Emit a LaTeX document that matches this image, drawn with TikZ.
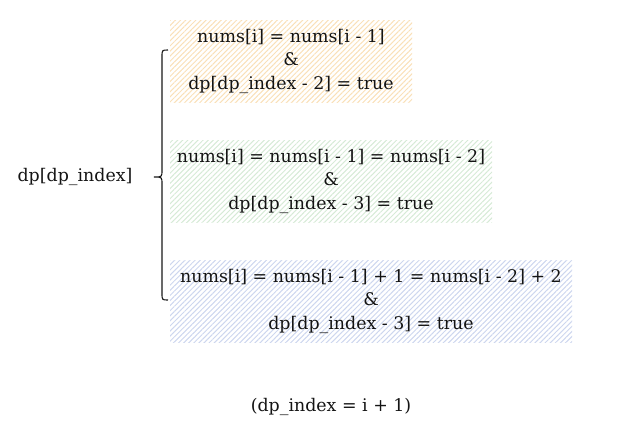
\documentclass[tikz,border=0pt]{standalone}
\usepackage{fontspec}
\setmainfont{DejaVu Serif}
\usetikzlibrary{patterns.meta}
\definecolor{hOrange}{HTML}{F9E0B8}
\definecolor{hGreen}{HTML}{D6EAD6}
\definecolor{hBlue}{HTML}{CDD6EE}
\tikzset{
  hbox/.style={minimum height=82pt, inner sep=0pt, align=center,
    font=\fontsize{17.4}{23.5}\selectfont, text=black!92},
  plain/.style={inner sep=0pt, font=\fontsize{17.4}{23.5}\selectfont, text=black!92},
  hatch/.style={pattern={Lines[angle=45,distance=3.6pt,line width=1pt]}, pattern color=#1},
}
\begin{document}
\begin{tikzpicture}[x=1pt,y=-1pt]
\useasboundingbox (0,0) rectangle (640,440);
\node[hbox, minimum width=242pt, hatch=hOrange] (b1) at (291,61)
  {nums[i] = nums[i - 1]\\\&\\dp[dp\_index - 2] = true};
\node[hbox, minimum width=322pt, hatch=hGreen] (b2) at (331,181)
  {nums[i] = nums[i - 1] = nums[i - 2]\\\&\\dp[dp\_index - 3] = true};
\node[hbox, minimum width=402pt, hatch=hBlue] (b3) at (371,301)
  {nums[i] = nums[i - 1] + 1 = nums[i - 2] + 2\\\&\\dp[dp\_index - 3] = true};
\node[plain] (dp) at (75,177) {dp[dp\_index]};
\node[plain] (note) at (331,407) {(dp\_index = i + 1)};
\coordinate (bt) at (168,50);
\coordinate (bm) at (154,177);
\coordinate (bb) at (168,300);
\draw[line width=1.1pt, black!90] (bt) .. controls (162,50) .. (162,57) -- (162,170)
  .. controls (162,177) .. (bm) .. controls (162,177) .. (162,184) -- (162,293)
  .. controls (162,300) .. (bb);
\end{tikzpicture}
\end{document}
